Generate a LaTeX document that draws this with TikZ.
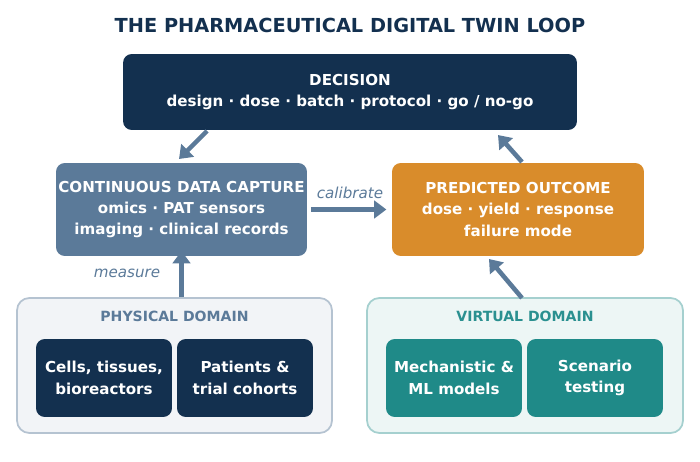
\documentclass[tikz,border=0pt]{standalone}
\usepackage{fontspec}
\setmainfont{DejaVu Sans}
\usetikzlibrary{arrows.meta,positioning}
\definecolor{navy}{HTML}{13304F}
\definecolor{slate}{HTML}{5B7A99}
\definecolor{amber}{HTML}{D98C2B}
\definecolor{teal2}{HTML}{1F8A88}
\definecolor{tealtxt}{HTML}{2A9090}
\begin{document}
\begin{tikzpicture}[x=0.02cm,y=-0.02cm,
    box/.style={rounded corners=5pt,text=white,align=center,inner sep=0pt,
        font=\bfseries\fontsize{8.6}{12.2}\selectfont},
    realm/.style={rounded corners=7pt,line width=1pt,inner sep=0pt},
    link/.style={-{Triangle[length=7pt,width=10pt]},line width=2.6pt,draw=slate},
    tag/.style={font=\itshape\fontsize{8.6}{10}\selectfont,text=slate}]
    \useasboundingbox (0,0) rectangle (700,462);
    \node[font=\bfseries\fontsize{11}{13}\selectfont,text=navy] (title) at (350,25) {THE PHARMACEUTICAL DIGITAL TWIN LOOP};

    % top decision
    \node[box,fill=navy,minimum width=9.08cm,minimum height=1.52cm] (decision) at (350,92)
        {DECISION\\design · dose · batch · protocol · go / no-go};

    % middle row
    \node[box,fill=slate,minimum width=5.02cm,minimum height=1.86cm] (capture) at (181.5,209.5)
        {CONTINUOUS DATA CAPTURE\\omics · PAT sensors\\imaging · clinical records};
    \node[box,fill=amber,minimum width=5.04cm,minimum height=1.86cm] (outcome) at (518,209.5)
        {PREDICTED OUTCOME\\dose · yield · response\\failure mode};

    % domains
    \node[realm,fill=slate!8,draw=slate!45,minimum width=6.3cm,minimum height=2.7cm] (physical) at (174.5,365.5) {};
    \node[font=\bfseries\fontsize{8}{10}\selectfont,text=slate] (phystag) at (174.5,316) {PHYSICAL DOMAIN};
    \node[box,fill=navy,minimum width=2.72cm,minimum height=1.56cm] (cells) at (104,378) {Cells, tissues,\\bioreactors};
    \node[box,fill=navy,minimum width=2.72cm,minimum height=1.56cm] (patients) at (245,378) {Patients \&\\trial cohorts};

    \node[realm,fill=teal2!8,draw=teal2!40,minimum width=6.32cm,minimum height=2.7cm] (virtual) at (525,365.5) {};
    \node[font=\bfseries\fontsize{8}{10}\selectfont,text=tealtxt] (virttag) at (525,316) {VIRTUAL DOMAIN};
    \node[box,fill=teal2,minimum width=2.72cm,minimum height=1.56cm] (mech) at (454,378) {Mechanistic \&\\ML models};
    \node[box,fill=teal2,minimum width=2.72cm,minimum height=1.56cm] (scen) at (595,378) {Scenario\\testing};

    % loop connectors
    \coordinate (d1) at (207,131);
    \coordinate (c1) at (179,159);
    \coordinate (o1) at (522,162);
    \coordinate (d2) at (498,135);
    \coordinate (v1) at (522,298);
    \coordinate (o2) at (489,259);
    \draw[link] (d1) -- (c1);
    \draw[link] (o1) -- (d2);
    \draw[link] ([xshift=2]capture.east) -- ([xshift=-3]outcome.west);
    \draw[link] (physical.north -| capture) -- ([yshift=3]capture.south);
    \draw[link] (v1) -- (o2);
    \node[tag] (cal) at (350,193) {calibrate};
    \node[tag] (meas) at (127,273) {measure};
\end{tikzpicture}
\end{document}
